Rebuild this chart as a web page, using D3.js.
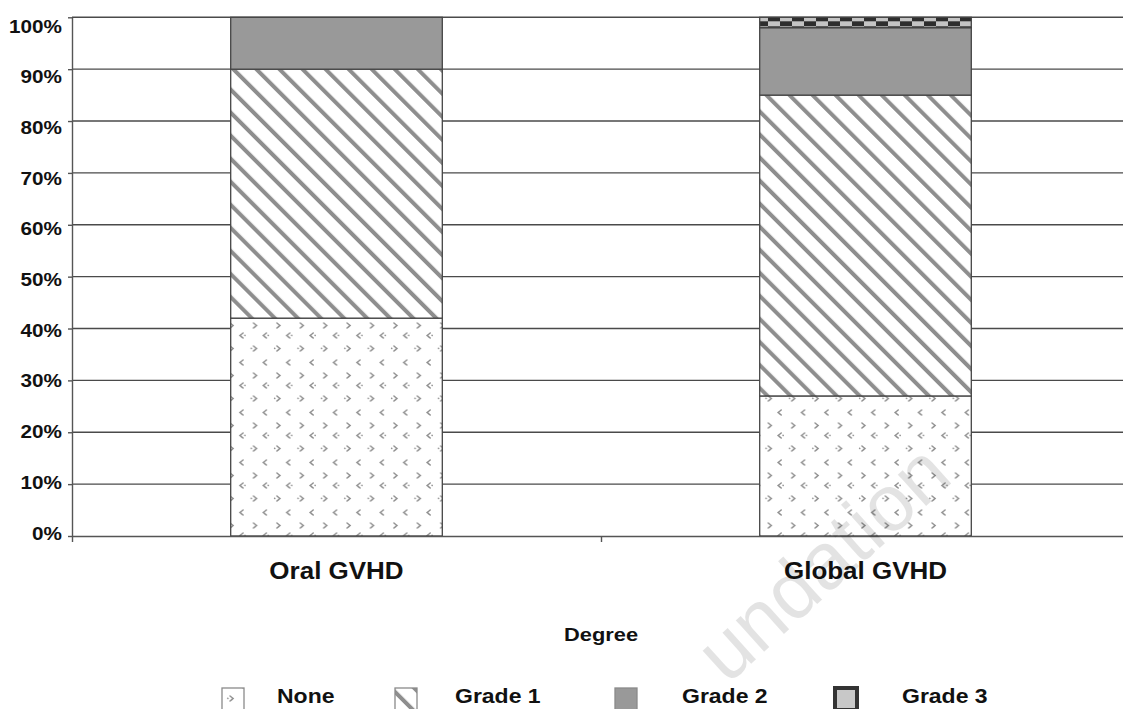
<!DOCTYPE html>
<html>
<head>
<meta charset="utf-8">
<script src="https://cdn.jsdelivr.net/npm/d3@7"></script>
<style>
  html, body { margin: 0; padding: 0; background: #fff; }
  svg { display: block; font-family: "Liberation Sans", Arial, sans-serif; }
</style>
</head>
<body>
<svg id="chart" width="1123" height="709"></svg>
<script>
// Oral vs. global GVHD: distribution of grades (percent of patients)
const categories = ["Oral GVHD", "Global GVHD"];
const grades = ["None", "Grade 1", "Grade 2", "Grade 3"];
const noneValues = [42, 27];
const grade1Values = [48, 58];
const grade2Values = [10, 13];
const grade3Values = [0, 2];
const yTicks = [0, 10, 20, 30, 40, 50, 60, 70, 80, 90, 100];
const axisTitle = "Degree";
const watermark = "undation";

const svg = d3.select("#chart");
const W = 1123, H = 709;
const plotLeft = 72, plotRight = 1130, plotTop = 17.3, plotBottom = 536;
const stretch = 1.15; // labels are set slightly wide

const rows = categories.map((c, i) => ({
  category: c,
  "None": noneValues[i],
  "Grade 1": grade1Values[i],
  "Grade 2": grade2Values[i],
  "Grade 3": grade3Values[i]
}));
const series = d3.stack().keys(grades)(rows);

const x = d3.scaleBand().domain(categories).range([plotLeft, plotRight])
  .paddingInner(0.6).paddingOuter(0.3);
const xEdge = d3.scaleLinear().domain([0, categories.length]).range([plotLeft, plotRight]);
const y = d3.scaleLinear().domain([0, 100]).range([plotBottom, plotTop]);
// tick labels sit on a slightly tighter ladder than the grid
const yLabel = d3.scaleLinear().domain([0, 100]).range([539, 32]);

// ---- fill patterns ----
const defs = svg.append("defs");

// None: small scattered chevrons
const pNone = defs.append("pattern").attr("id", "pNone")
  .attr("patternUnits", "userSpaceOnUse")
  .attr("x", 1).attr("y", 8)
  .attr("width", 23.4).attr("height", 50);
pNone.append("rect").attr("width", 23.4).attr("height", 50).attr("fill", "#fff");
const markPaths = [
  "M8,2 L5,4.5 L8,7",
  "M18.5,15 L21.5,17.5 L18.5,20",
  "M8,25 L5,27.5 L8,30 M9.8,27.3 L10,27.5",
  "M16.2,40.3 L16.4,40.5 M18.5,38 L21.5,40.5 L18.5,43"
];
pNone.selectAll("path").data(markPaths).join("path")
  .attr("d", d => d)
  .attr("fill", "none")
  .attr("stroke", "#8f8f8f")
  .attr("stroke-width", 1.5)
  .attr("stroke-linecap", "round")
  .attr("stroke-dasharray", "1.6 0.8");

// Grade 1: diagonal hatching, top-left to bottom-right
const pG1 = defs.append("pattern").attr("id", "pG1")
  .attr("patternUnits", "userSpaceOnUse")
  .attr("width", 16.3).attr("height", 10)
  .attr("patternTransform", "rotate(-45)");
pG1.append("rect").attr("width", 16.3).attr("height", 10).attr("fill", "#fff");
pG1.append("rect").attr("width", 4).attr("height", 10).attr("fill", "#8e8e8e");

// Grade 3: small checkerboard
const pG3 = defs.append("pattern").attr("id", "pG3")
  .attr("patternUnits", "userSpaceOnUse")
  .attr("x", 0).attr("y", y(100) - 1)
  .attr("width", 24).attr("height", 10);
pG3.append("rect").attr("width", 24).attr("height", 10).attr("fill", "#c4c4c4");
pG3.append("rect").attr("x", 0).attr("y", 0).attr("width", 12).attr("height", 5).attr("fill", "#2e2e2e");
pG3.append("rect").attr("x", 12).attr("y", 5).attr("width", 12).attr("height", 5).attr("fill", "#2e2e2e");

const fills = {
  "None": "url(#pNone)",
  "Grade 1": "url(#pG1)",
  "Grade 2": "#999999",
  "Grade 3": "url(#pG3)"
};

// ---- gridlines ----
svg.append("g").attr("class", "grid")
  .selectAll("line").data(yTicks.filter(t => t > 0)).join("line")
  .attr("x1", plotLeft).attr("x2", W)
  .attr("y1", d => y(d)).attr("y2", d => y(d))
  .attr("stroke", "#4a4a4a").attr("stroke-width", 1.4);

// ---- stacked bars ----
svg.append("g").attr("class", "bars")
  .selectAll("g").data(series).join("g")
  .attr("fill", d => fills[d.key])
  .selectAll("rect").data(d => d.filter(s => s[1] - s[0] > 0)).join("rect")
  .attr("x", d => x(d.data.category))
  .attr("width", x.bandwidth())
  .attr("y", d => y(d[1]))
  .attr("height", d => y(d[0]) - y(d[1]))
  .attr("stroke", "#454545")
  .attr("stroke-width", 1.3);

// ---- axes ----
const yAxis = svg.append("g").attr("class", "y-axis")
  .attr("transform", `translate(${plotLeft},0)`)
  .call(d3.axisLeft(y).tickValues(yTicks).tickFormat(d => d + "%")
    .tickSize(4).tickSizeOuter(0));
yAxis.select(".domain").attr("stroke", "#555").attr("stroke-width", 1.4);
yAxis.selectAll(".tick line").attr("stroke", "#555").attr("stroke-width", 1.4);
yAxis.selectAll(".tick text")
  .attr("x", null).attr("dy", null)
  .attr("transform", d => `translate(-10,${yLabel(d) - y(d)}) scale(${stretch},1)`)
  .attr("text-anchor", "end")
  .attr("fill", "#111")
  .style("font-size", "18px")
  .style("font-weight", "bold")
  .style("font-family", "'Liberation Sans', Arial, sans-serif");

const xAxis = svg.append("g").attr("class", "x-axis")
  .attr("transform", `translate(0,${plotBottom})`)
  .call(d3.axisBottom(xEdge).tickValues(d3.range(categories.length + 1))
    .tickFormat("").tickSize(6).tickSizeOuter(0));
xAxis.select(".domain").attr("stroke", "#555").attr("stroke-width", 1.4);
xAxis.selectAll(".tick line").attr("stroke", "#555").attr("stroke-width", 1.4);

// category labels
svg.append("g").attr("class", "cat-labels")
  .selectAll("text").data(categories).join("text")
  .attr("transform", d => `translate(${x(d) + x.bandwidth() / 2},579) scale(1.13,1)`)
  .attr("text-anchor", "middle")
  .attr("fill", "#111")
  .style("font-size", "23px")
  .style("font-weight", "bold")
  .text(d => d);

// axis title
svg.append("text")
  .attr("transform", `translate(${xEdge(categories.length / 2)},641) scale(${stretch},1)`)
  .attr("text-anchor", "middle")
  .attr("fill", "#111")
  .style("font-size", "19px")
  .style("font-weight", "bold")
  .text(axisTitle);

// ---- legend ----
const swatchX = [222, 395, 615, 835];
const labelX = [277, 455, 682, 902];
const legend = svg.append("g").attr("class", "legend");
const items = legend.selectAll("g").data(grades).join("g");
items.append("rect")
  .attr("x", (d, i) => swatchX[i]).attr("y", 688)
  .attr("width", 22).attr("height", 22)
  .attr("fill", d => d === "Grade 3" ? "#c8c8c8" : fills[d])
  .attr("stroke", d => d === "Grade 3" ? "#333" : "#8a8a8a")
  .attr("stroke-width", d => d === "Grade 3" ? 4 : 1.3);
items.append("text")
  .attr("transform", (d, i) => `translate(${labelX[i]},703) scale(${stretch},1)`)
  .attr("fill", "#111")
  .style("font-size", "20px")
  .style("font-weight", "bold")
  .text(d => d);

// ---- faint publisher mark ----
svg.append("text")
  .attr("transform", "translate(955,480) rotate(-42)")
  .attr("text-anchor", "end")
  .attr("fill", "#000")
  .attr("fill-opacity", 0.11)
  .style("font-size", "80px")
  .text(watermark);
</script>
</body>
</html>
